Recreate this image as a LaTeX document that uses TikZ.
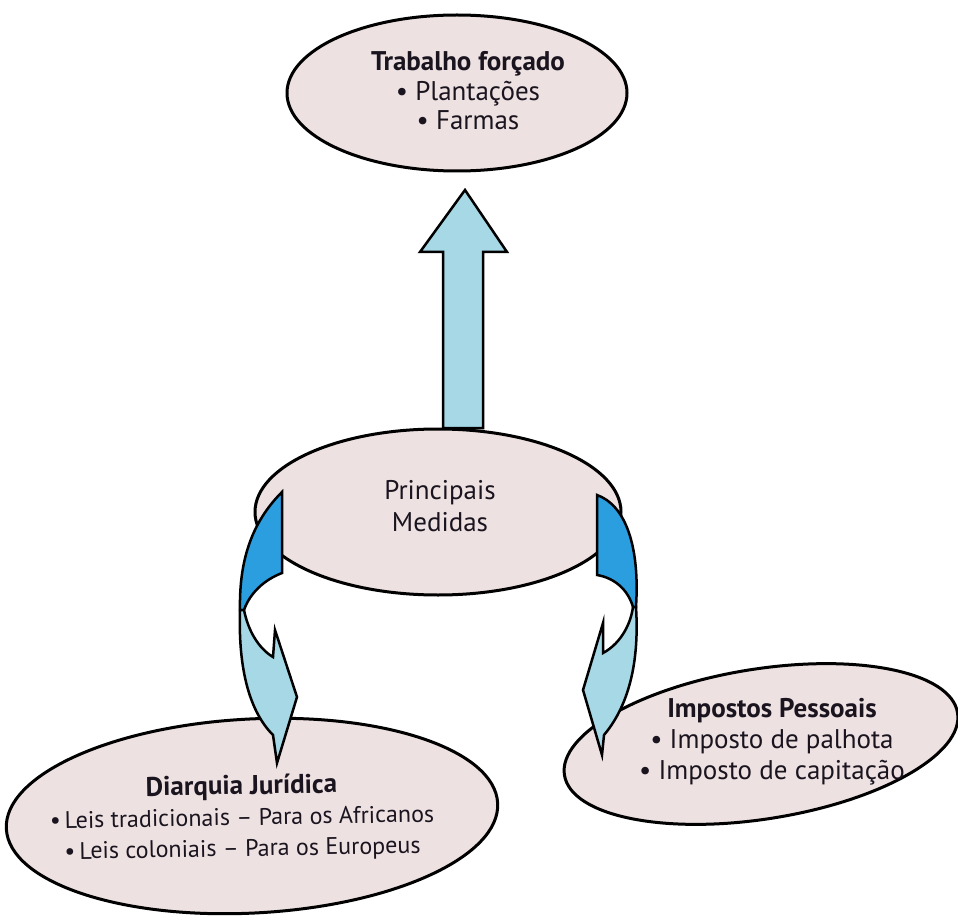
\documentclass[tikz,border=0pt]{standalone}
\usepackage{fontspec}
\setmainfont{PT Sans}
\usetikzlibrary{shapes.geometric}
\definecolor{ellfill}{RGB}{238,225,226}
\definecolor{lightblue}{RGB}{166,216,230}
\definecolor{darkblue}{RGB}{43,158,224}
\definecolor{ink}{RGB}{25,20,30}
\begin{document}
\begin{tikzpicture}[x=1pt,y=-1pt,
  ell/.style={ellipse, draw=black, line width=3pt, fill=ellfill, inner sep=0pt},
  txt/.style={align=center, text=ink, inner sep=0pt},
  arrowbody/.style={draw=black, line width=2.5pt, line join=miter},
]
\useasboundingbox (0,0) rectangle (958,917);
\fill[white] (0,0) rectangle (958,917);

% top ellipse
\node[ell, minimum width=340pt, minimum height=156pt] (top) at (457,93) {};
\node[txt, font=\fontsize{27}{29.5}\selectfont] (toptxt) at (468,91)
  {\bfseries Trabalho forçado\\• Plantações\\• Farmas};

% up arrow
\coordinate (uptip) at (465,190);
\draw[arrowbody, fill=lightblue]
  (443,428) -- (443,252) -- (420,252) -- (uptip) -- (507,252) -- (483,252) -- (483,428) -- cycle;

% middle ellipse
\node[ell, minimum width=366pt, minimum height=166pt] (mid) at (438,512) {};
\node[txt, font=\fontsize{27}{32}\selectfont] (midtxt) at (440,506) {Principais\\Medidas};

% bottom left ellipse
\node[ell, minimum width=492pt, minimum height=194pt, rotate=3] (diar) at (252,816) {};
\node[txt, font=\fontsize{27}{31}\selectfont, rotate=1] (diartxt) at (242,818)
  {\bfseries Diarquia Jurídica\\
   {\fontsize{24}{31}\selectfont •\,Leis tradicionais – Para os Africanos}\\
   {\fontsize{24}{31}\selectfont •\,Leis coloniais – Para os Europeus}};

% bottom right ellipse
\node[ell, minimum width=398pt, minimum height=150pt, rotate=9] (imp) at (761,744) {};
\node[txt, font=\fontsize{27}{31}\selectfont] (imptxt) at (772,742)
  {\bfseries Impostos Pessoais\\• Imposto de palhota\\• Imposto de capitação};

% left curved arrow
\draw[arrowbody, fill=darkblue]
  (282,492) -- (282,573) .. controls (264,580) and (250,593) .. (244,610)
  -- (240,610) .. controls (239,560) and (252,522) .. (282,492) -- cycle;
\draw[arrowbody, fill=lightblue]
  (240,610) .. controls (238,670) and (250,712) .. (273,735) -- (277,763)
  -- (297,697) -- (275,630) -- (273,657)
  .. controls (258,648) and (248,630) .. (244,610) -- cycle;

% right curved arrow
\draw[arrowbody, fill=darkblue]
  (597,495) .. controls (625,505) and (640,545) .. (636,607)
  -- (633,607) .. controls (628,590) and (615,578) .. (597,575) -- cycle;
\draw[arrowbody, fill=lightblue]
  (636,607) .. controls (640,670) and (625,710) .. (604,735) -- (602,755)
  -- (583,690) -- (603,623) -- (603,653)
  .. controls (618,645) and (630,628) .. (633,607) -- cycle;
\end{tikzpicture}
\end{document}
